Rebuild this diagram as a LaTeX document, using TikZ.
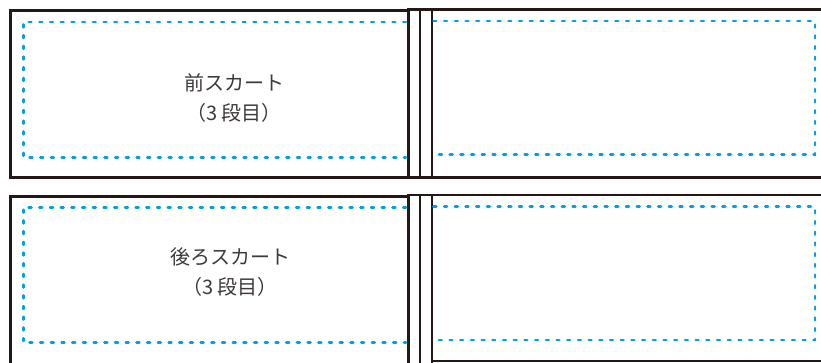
\documentclass[tikz,border=0pt]{standalone}
\usepackage{fontspec}
\usepackage{xcolor}
\usepackage{tikz}
\newfontfamily\jpfont{Noto Sans CJK JP}
\definecolor{seamblue}{RGB}{0,160,233}
\definecolor{inkblack}{RGB}{35,24,21}
\definecolor{textgray}{RGB}{62,58,57}

\begin{document}
\begin{tikzpicture}[x=1bp,y=-1bp,
  cutline/.style={draw=inkblack, line width=2.8bp},
  seamline/.style={draw=seamblue, line width=2.6bp, line cap=round, dash pattern=on 2.8bp off 7.9bp},
  piecelabel/.style={font=\jpfont\fontsize{20bp}{30bp}\selectfont, text=textgray, align=center, inner sep=0pt}]
\def\stripL{408.5}
\def\stripM{420}
\def\stripR{432}
\useasboundingbox (0,0) rectangle (821,362);
\clip (0,0) rectangle (821,362);

% Front skirt (top row)
\draw[cutline] (10.3,10.8) rectangle (\stripL,177.5);
\draw[cutline] (\stripL,9.2) rectangle (\stripR,177.5);
\draw[cutline] (\stripR,9.2) rectangle (840,177.5);
\draw[cutline] (\stripM,9.2) -- (\stripM,177.5);
\draw[seamline] (406,22) -- (23.3,22) -- (23.3,157.3) -- (406,157.3);
\draw[seamline] (433.5,21) -- (815,21) -- (815,154.5) -- (433.5,154.5);
\node[piecelabel] (frontlabel) at (234,98) {前スカート\\（3\,段目）};

% Back skirt (bottom row)
\draw[cutline] (10.3,196.5) rectangle (\stripL,375);
\draw[cutline] (\stripL,195) rectangle (\stripR,375);
\draw[cutline] (\stripR,195) rectangle (840,361);
\draw[cutline] (\stripM,195) -- (\stripM,375);
\draw[seamline] (406,207.3) -- (23.3,207.3) -- (23.3,342.7) -- (406,342.7);
\draw[seamline] (433.5,206.7) -- (815,206.7) -- (815,340) -- (433.5,340);
\node[piecelabel] (backlabel) at (230,272) {後ろスカート\\（3\,段目）};

\end{tikzpicture}
\end{document}
